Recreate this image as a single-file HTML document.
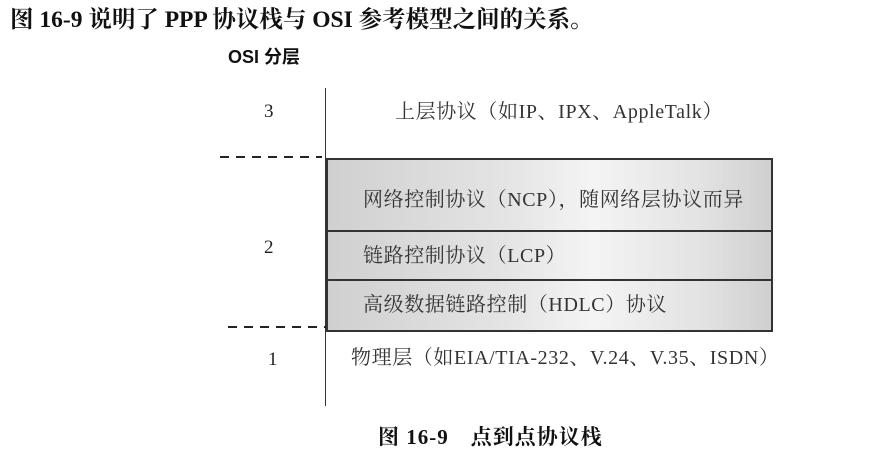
<!DOCTYPE html>
<html><head><meta charset="utf-8"><style>
body{margin:0;width:875px;height:460px;background:#fff;position:relative;overflow:hidden;font-family:"Liberation Serif","Noto Serif CJK SC",serif;color:#222}
.a{position:absolute;white-space:nowrap;line-height:1}
.box{position:absolute;left:326px;width:443px;border:2px solid #333;background:linear-gradient(90deg,#d0d0d0 0%,#e4e4e4 40%,#f4f4f4 60%,#e2e2e2 85%,#cfcfcf 100%)}
.t{font-size:20px;color:#333;letter-spacing:0.6px}
</style></head><body>
<div class="a" style="left:10px;top:9px;font-size:23.5px;font-weight:bold;color:#111">图 16-9 说明了 PPP 协议栈与 OSI 参考模型之间的关系。</div>
<div class="a" style="left:228px;top:48px;font-size:18px;font-weight:bold;font-family:'Liberation Sans','Noto Sans CJK SC',sans-serif;color:#111">OSI 分层</div>
<div style="position:absolute;left:325px;top:88px;width:1px;height:318px;background:#333"></div>
<svg style="position:absolute;left:0;top:0" width="875" height="460">
<line x1="220" y1="157" x2="322" y2="157" stroke="#222" stroke-width="2" stroke-dasharray="9,7"/>
<line x1="228" y1="327" x2="326" y2="327" stroke="#222" stroke-width="2" stroke-dasharray="9,7"/>
</svg>
<div class="box" style="top:158px;height:72px"></div>
<div class="box" style="top:230px;height:48px"></div>
<div class="box" style="top:279px;height:49px"></div>
<div class="a" style="left:264px;top:102px;font-size:19px">3</div>
<div class="a" style="left:264px;top:238px;font-size:19px">2</div>
<div class="a" style="left:268px;top:350px;font-size:19px">1</div>
<div class="a t" style="left:395px;top:102px">上层协议（如IP、IPX、AppleTalk）</div>
<div class="a t" style="left:363px;top:190px">网络控制协议（NCP），随网络层协议而异</div>
<div class="a t" style="left:363px;top:246px">链路控制协议（LCP）</div>
<div class="a t" style="left:363px;top:295px">高级数据链路控制（HDLC）协议</div>
<div class="a t" style="left:351px;top:348px">物理层（如EIA/TIA-232、V.24、V.35、ISDN）</div>
<div class="a" style="left:378px;top:427px;font-size:21px;font-weight:bold;color:#111;letter-spacing:1px">图 16-9　点到点协议栈</div>
</body></html>
